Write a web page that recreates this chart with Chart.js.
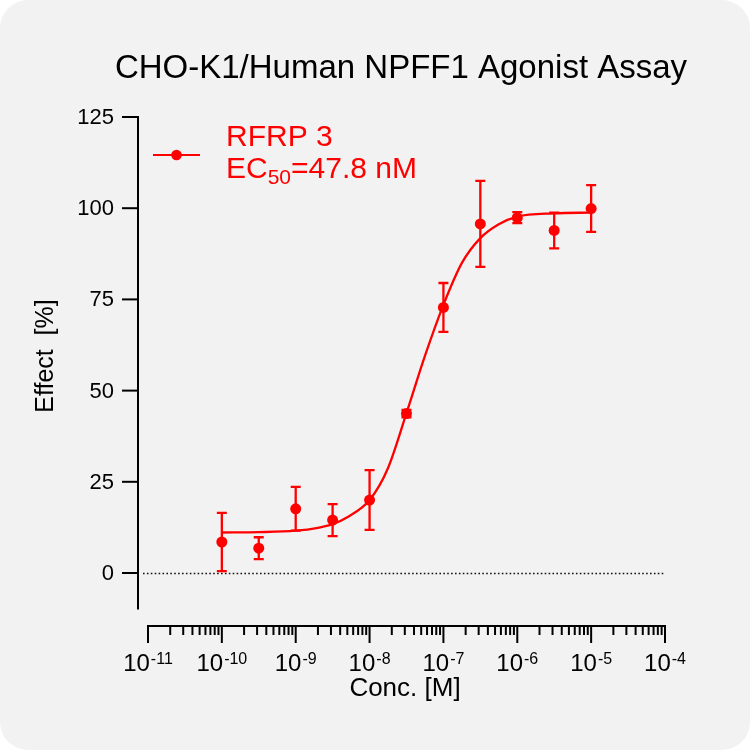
<!DOCTYPE html>
<html>
<head>
<meta charset="utf-8">
<script src="https://cdn.jsdelivr.net/npm/chart.js@4.4.1/dist/chart.umd.min.js"></script>
<style>
  html, body { margin: 0; padding: 0; background: #ffffff; }
  #wrap { width: 750px; height: 750px; border-radius: 28px; background: #f2f2f2; overflow: hidden; position: relative; }
  canvas { display: block; }
</style>
</head>
<body>
<div id="wrap"><canvas id="c" width="750" height="750"></canvas></div>
<script>
// ---------------- DATA ----------------
const chartTitle = 'CHO-K1/Human NPFF1 Agonist Assay';
const seriesName = 'RFRP 3';
const ec50Label = ['EC', '50', '=47.8 nM'];
const xAxisTitle = 'Conc. [M]';
const yAxisTitle = 'Effect  [%]';

// measured points (concentration in M, mean effect %, error)
const concentrations = [1e-10, 3.16e-10, 1e-9, 3.16e-9, 1e-8, 3.16e-8, 1e-7, 3.16e-7, 1e-6, 3.16e-6, 1e-5];
const effectMean     = [8.5, 6.8, 17.6, 14.5, 20.0, 43.7, 72.8, 95.7, 97.4, 93.9, 99.9];
const effectError    = [8.0, 3.0, 6.0, 4.4, 8.2, 1.0, 6.7, 11.8, 1.5, 4.9, 6.4];

// fitted curve
const curveConc   = [1e-10, 3.16e-10, 1e-9, 2e-9, 3.16e-9, 5e-9, 1e-8, 1.78e-8, 3.16e-8, 5.62e-8, 1e-7, 1.78e-7, 3.16e-7, 5.62e-7, 1e-6, 3.16e-6, 1e-5];
const curveEffect = [11.1, 11.2, 11.6, 12.4, 13.4, 15.3, 20.0, 28.8, 43.8, 59.5, 73.5, 85.0, 91.8, 95.6, 97.7, 98.6, 98.8];

// tick labels
const yTickValues = [0, 25, 50, 75, 100, 125];
const xTickExponents = [-11, -10, -9, -8, -7, -6, -5, -4];
const xMinorMultipliers = [2, 3, 4, 5, 6, 7, 8, 9];

// ---------------- STYLE ----------------
const RED = '#ff0000';
const FONT = '"Liberation Sans", Arial, sans-serif';
const Y_AXIS_END = -10;

const overlay = {
  id: 'overlay',
  beforeDatasetsDraw(chart) {
    const ctx = chart.ctx, xs = chart.scales.x, ys = chart.scales.y;
    // dotted zero line
    ctx.save();
    ctx.strokeStyle = '#111';
    ctx.lineWidth = 1.6;
    ctx.setLineDash([1.6, 2.3]);
    const y0 = Math.round(ys.getPixelForValue(0)) + 0.5;
    ctx.beginPath();
    ctx.moveTo(chart.chartArea.left + 6, y0);
    ctx.lineTo(xs.getPixelForValue(Math.pow(10, xTickExponents[xTickExponents.length - 1])), y0);
    ctx.stroke();
    ctx.restore();

    // error bars
    ctx.save();
    ctx.strokeStyle = RED;
    ctx.lineWidth = 2.3;
    concentrations.forEach((c, i) => {
      const px = xs.getPixelForValue(c);
      const top = ys.getPixelForValue(effectMean[i] + effectError[i]);
      const bot = ys.getPixelForValue(effectMean[i] - effectError[i]);
      ctx.beginPath();
      ctx.moveTo(px, top); ctx.lineTo(px, bot);
      ctx.moveTo(px - 5, top); ctx.lineTo(px + 5, top);
      ctx.moveTo(px - 5, bot); ctx.lineTo(px + 5, bot);
      ctx.stroke();
    });
    ctx.restore();
  },
  afterDraw(chart) {
    const ctx = chart.ctx, xs = chart.scales.x, ys = chart.scales.y, ca = chart.chartArea;
    ctx.save();
    ctx.strokeStyle = '#000';
    ctx.fillStyle = '#000';
    ctx.lineWidth = 2;

    // Y axis
    const ax = ca.left + 1;
    ctx.beginPath();
    ctx.moveTo(ax, ys.getPixelForValue(yTickValues[yTickValues.length - 1]) - 1);
    ctx.lineTo(ax, ys.getPixelForValue(Y_AXIS_END));
    ctx.stroke();
    ctx.font = '22px ' + FONT;
    ctx.textAlign = 'right';
    ctx.textBaseline = 'middle';
    yTickValues.forEach(v => {
      const py = ys.getPixelForValue(v);
      ctx.beginPath();
      ctx.moveTo(ax - 16, py); ctx.lineTo(ax, py);
      ctx.stroke();
      ctx.fillText(String(v), ax - 24, py + 1);
    });

    // X axis
    const ay = ca.bottom - 1;
    const xFirst = xs.getPixelForValue(Math.pow(10, xTickExponents[0]));
    const xLast = xs.getPixelForValue(Math.pow(10, xTickExponents[xTickExponents.length - 1]));
    ctx.beginPath();
    ctx.moveTo(xFirst - 1, ay); ctx.lineTo(xLast + 1, ay);
    ctx.stroke();
    xTickExponents.forEach((e, idx) => {
      const px = xs.getPixelForValue(Math.pow(10, e));
      ctx.beginPath();
      ctx.moveTo(px, ay); ctx.lineTo(px, ay + 17);
      ctx.stroke();
      if (idx < xTickExponents.length - 1) {
        xMinorMultipliers.forEach(m => {
          const mx = xs.getPixelForValue(m * Math.pow(10, e));
          ctx.beginPath();
          ctx.moveTo(mx, ay); ctx.lineTo(mx, ay + 9);
          ctx.stroke();
        });
      }
      // label 10^e
      ctx.textAlign = 'left';
      ctx.textBaseline = 'alphabetic';
      ctx.font = '24px ' + FONT;
      const base = '10';
      const wb = ctx.measureText(base).width;
      ctx.font = '16px ' + FONT;
      const ex = String(e);
      const we = ctx.measureText(ex).width;
      const start = px - (wb + we + 1) / 2;
      ctx.font = '24px ' + FONT;
      ctx.fillText(base, start, 671);
      ctx.font = '16px ' + FONT;
      ctx.fillText(ex, start + wb + 1, 664);
    });

    // axis titles
    ctx.font = '26px ' + FONT;
    ctx.textAlign = 'center';
    ctx.textBaseline = 'alphabetic';
    ctx.fillText(xAxisTitle, 405, 696);
    ctx.save();
    ctx.translate(46, 356);
    ctx.rotate(-Math.PI / 2);
    ctx.textBaseline = 'middle';
    ctx.font = '25px ' + FONT;
    ctx.fillText(yAxisTitle, 0, 0);
    ctx.restore();

    // chart title
    ctx.font = '33px ' + FONT;
    ctx.textAlign = 'center';
    ctx.textBaseline = 'alphabetic';
    ctx.fillText(chartTitle, 401, 78);

    // legend
    ctx.strokeStyle = RED;
    ctx.fillStyle = RED;
    ctx.lineWidth = 2.2;
    ctx.beginPath();
    ctx.moveTo(153, 155); ctx.lineTo(200, 155);
    ctx.stroke();
    ctx.beginPath();
    ctx.arc(176.5, 155, 5.3, 0, Math.PI * 2);
    ctx.fill();
    ctx.textAlign = 'left';
    ctx.font = '30px ' + FONT;
    ctx.fillText(seriesName, 226, 146);
    ctx.fillText(ec50Label[0], 226, 178);
    const w1 = ctx.measureText(ec50Label[0]).width;
    ctx.font = '21px ' + FONT;
    ctx.fillText(ec50Label[1], 226 + w1, 184);
    const w2 = ctx.measureText(ec50Label[1]).width;
    ctx.font = '30px ' + FONT;
    ctx.fillText(ec50Label[2], 226 + w1 + w2, 178);

    ctx.restore();
  }
};

new Chart(document.getElementById('c'), {
  type: 'scatter',
  data: {
    datasets: [
      {
        label: 'fit',
        data: curveConc.map((c, i) => ({ x: c, y: curveEffect[i] })),
        showLine: true,
        borderColor: RED,
        borderWidth: 2.3,
        pointRadius: 0,
        cubicInterpolationMode: 'monotone',
        clip: false
      },
      {
        label: seriesName,
        data: concentrations.map((c, i) => ({ x: c, y: effectMean[i] })),
        showLine: false,
        backgroundColor: RED,
        borderColor: RED,
        borderWidth: 0,
        pointRadius: 5.5,
        clip: false
      }
    ]
  },
  options: {
    responsive: false,
    animation: false,
    layout: { padding: { left: 137, right: 85, top: 117, bottom: 123 } },
    plugins: { legend: { display: false }, title: { display: false }, tooltip: { enabled: false } },
    scales: {
      x: { type: 'logarithmic', min: 7.1e-12, max: 1e-4, display: false },
      y: { type: 'linear', min: -14.8, max: 125, display: false }
    }
  },
  plugins: [overlay]
});
</script>
</body>
</html>
